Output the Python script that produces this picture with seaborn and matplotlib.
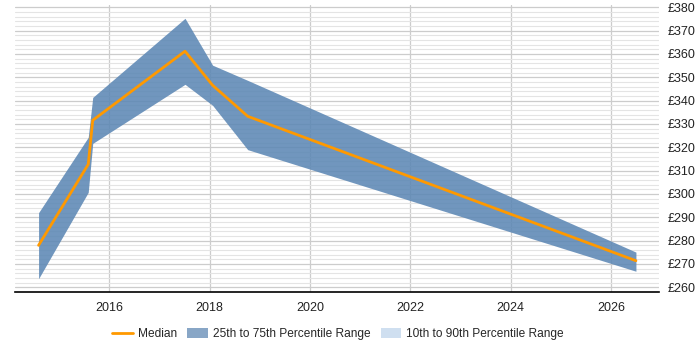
import matplotlib
matplotlib.use("Agg")
import matplotlib.pyplot as plt
import seaborn as sns
import pandas as pd
import numpy as np
from matplotlib.patches import Patch
from matplotlib.lines import Line2D
from matplotlib.ticker import MultipleLocator, FuncFormatter

years = [2014.59, 2015.58, 2015.67, 2017.51, 2018.06, 2018.76, 2026.50]
median = [278.0, 312.7, 331.6, 361.2, 346.6, 333.3, 271.4]
p25 = [263.7, 300.7, 321.7, 347.0, 338.0, 319.0, 266.9]
p75 = [292.0, 324.3, 341.4, 375.3, 355.2, 348.7, 275.1]
x_ticks = [2016, 2018, 2020, 2022, 2024, 2026]
legend_labels = ["Median", "25th to 75th Percentile Range", "10th to 90th Percentile Range"]

df = pd.DataFrame({"year": years, "median": median, "p25": p25, "p75": p75})

sns.set_style("white")
plt.rcParams["font.family"] = ["Liberation Sans", "DejaVu Sans"]

fig = plt.figure(figsize=(7, 3.5), dpi=100)
ax = fig.add_axes([15/700, 1 - 292/350, 644/700, 287/350])

ax.fill_between(df["year"], df["p25"], df["p75"], color="#5d88b5", alpha=0.88,
                linewidth=0, zorder=2)
sns.lineplot(data=df, x="year", y="median", ax=ax, color="#ff9900", linewidth=2,
             zorder=3, legend=False)

ax.set_xlim(2014.12, 2026.96)
ax.set_ylim(258, 381)
ax.set_xticks(x_ticks)
ax.yaxis.set_major_locator(MultipleLocator(10))
ax.yaxis.set_minor_locator(MultipleLocator(2))
ax.yaxis.set_major_formatter(FuncFormatter(lambda v, p: f"£{int(v)}"))
ax.yaxis.tick_right()
ax.grid(axis="y", which="major", color="#cccccc", linewidth=0.9, zorder=0)
ax.grid(axis="y", which="minor", color="#e4e4e4", linewidth=0.8, zorder=0)
ax.grid(axis="x", which="major", color="#cccccc", linewidth=0.9, zorder=0)
ax.set_axisbelow(True)
for s in ["top", "right", "left"]:
    ax.spines[s].set_visible(False)
ax.spines["bottom"].set_color("#000000")
ax.spines["bottom"].set_linewidth(1.2)
ax.tick_params(axis="y", which="both", length=0, labelsize=9, colors="#222222", pad=6)
ax.tick_params(axis="x", length=4, labelsize=9, colors="#222222", color="#000000")
ax.set_xlabel("")
ax.set_ylabel("")

handles = [
    Line2D([0], [0], color="#ff9900", linewidth=2),
    Patch(facecolor="#88a6c6", edgecolor="none"),
    Patch(facecolor="#cfdff0", edgecolor="none"),
]
fig.legend(handles, legend_labels, loc="center", bbox_to_anchor=(0.483, 1 - 334/350),
           ncol=3, frameon=False, fontsize=8.6, handlelength=1.7, handleheight=1.0,
           columnspacing=0.85, handletextpad=0.45)

fig.savefig("out.png", dpi=100)
